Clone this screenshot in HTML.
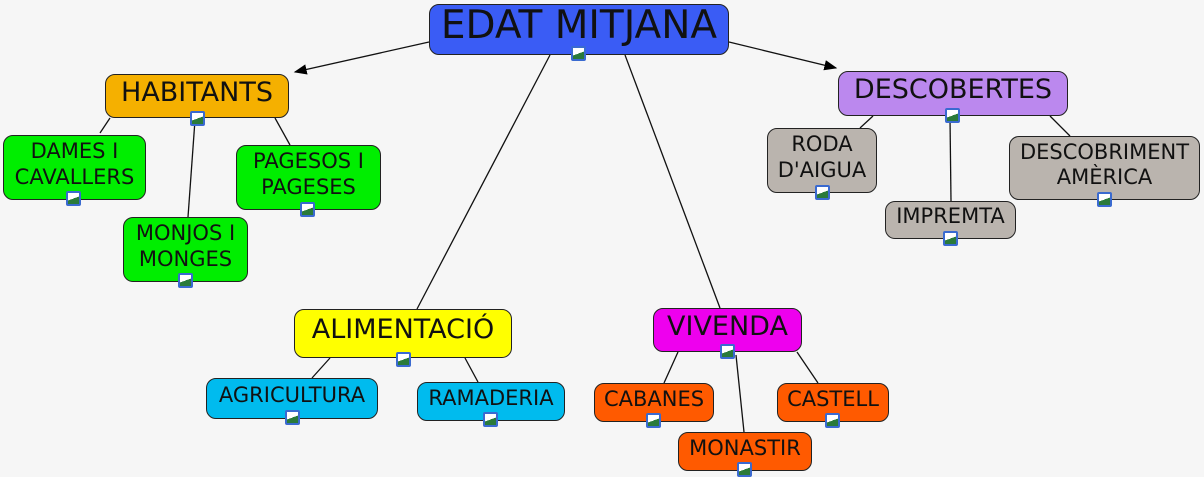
<!DOCTYPE html>
<html><head><meta charset="utf-8"><style>
body{margin:0;width:1204px;height:474px;background:#f6f6f6;position:relative;overflow:hidden;font-family:"DejaVu Sans","Liberation Sans",sans-serif;}
.n{position:absolute;box-sizing:border-box;border:1.5px solid #222;border-radius:10px;display:flex;align-items:center;justify-content:center;text-align:center;color:#111;line-height:1.2;padding-bottom:6px;white-space:nowrap}
.i{position:absolute;width:15px;height:15px;box-sizing:border-box;border:2px solid #3a6ad0;background:linear-gradient(160deg,#fff 50%,#2a7a3a 50%);border-radius:2px}
svg{position:absolute;left:0;top:0}
</style></head><body>
<svg width="1204" height="474">
<defs><marker id="a" markerWidth="10" markerHeight="8" refX="9" refY="4" orient="auto"><path d="M0,0L10,4L0,8z" fill="#000"/></marker></defs>
<g stroke="#111" stroke-width="1.3">
<line x1="429" y1="42" x2="295" y2="72" marker-end="url(#a)"/>
<line x1="729" y1="42" x2="836" y2="68" marker-end="url(#a)"/>
<line x1="550" y1="55" x2="417" y2="309"/>
<line x1="625" y1="55" x2="720" y2="308"/>
<line x1="110" y1="118" x2="100" y2="133"/>
<line x1="195" y1="120" x2="188" y2="217"/>
<line x1="275" y1="118" x2="290" y2="145"/>
<line x1="873" y1="116" x2="860" y2="128"/>
<line x1="950" y1="118" x2="951" y2="201"/>
<line x1="1050" y1="116" x2="1070" y2="136"/>
<line x1="330" y1="358" x2="312" y2="378"/>
<line x1="465" y1="358" x2="478" y2="382"/>
<line x1="678" y1="352" x2="664" y2="383"/>
<line x1="736" y1="355" x2="744" y2="432"/>
<line x1="797" y1="352" x2="818" y2="383"/>
</g></svg>
<div class="n" style="left:429px;top:4px;width:300px;height:51px;background:#3a5cf5;font-size:39px">EDAT MITJANA</div>
<div class="n" style="left:105px;top:74px;width:184px;height:44px;background:#f5b000;font-size:27px">HABITANTS</div>
<div class="n" style="left:3px;top:135px;width:143px;height:65px;background:#00ee00;font-size:21px">DAMES I<br>CAVALLERS</div>
<div class="n" style="left:123px;top:217px;width:125px;height:65px;background:#00ee00;font-size:21px">MONJOS I<br>MONGES</div>
<div class="n" style="left:236px;top:145px;width:145px;height:65px;background:#00ee00;font-size:21px">PAGESOS I<br>PAGESES</div>
<div class="n" style="left:838px;top:71px;width:230px;height:45px;background:#bb88ee;font-size:27px">DESCOBERTES</div>
<div class="n" style="left:767px;top:128px;width:110px;height:65px;background:#bab4ae;font-size:21px">RODA<br>D'AIGUA</div>
<div class="n" style="left:885px;top:201px;width:131px;height:38px;background:#bab4ae;font-size:21px">IMPREMTA</div>
<div class="n" style="left:1009px;top:136px;width:191px;height:64px;background:#bab4ae;font-size:21px">DESCOBRIMENT<br>AMÈRICA</div>
<div class="n" style="left:294px;top:309px;width:218px;height:49px;background:#ffff00;font-size:27px">ALIMENTACIÓ</div>
<div class="n" style="left:206px;top:378px;width:172px;height:41px;background:#00bbee;font-size:21px">AGRICULTURA</div>
<div class="n" style="left:417px;top:382px;width:148px;height:39px;background:#00bbee;font-size:21px">RAMADERIA</div>
<div class="n" style="left:653px;top:308px;width:149px;height:44px;background:#ee00ee;font-size:27px">VIVENDA</div>
<div class="n" style="left:594px;top:383px;width:120px;height:39px;background:#ff5a00;font-size:21px">CABANES</div>
<div class="n" style="left:777px;top:383px;width:112px;height:39px;background:#ff5a00;font-size:21px">CASTELL</div>
<div class="n" style="left:678px;top:432px;width:134px;height:39px;background:#ff5a00;font-size:21px">MONASTIR</div>
<div class="i" style="left:571px;top:46px"></div>
<div class="i" style="left:190px;top:111px"></div>
<div class="i" style="left:66px;top:191px"></div>
<div class="i" style="left:178px;top:273px"></div>
<div class="i" style="left:300px;top:202px"></div>
<div class="i" style="left:945px;top:108px"></div>
<div class="i" style="left:815px;top:185px"></div>
<div class="i" style="left:943px;top:231px"></div>
<div class="i" style="left:1097px;top:192px"></div>
<div class="i" style="left:396px;top:352px"></div>
<div class="i" style="left:285px;top:410px"></div>
<div class="i" style="left:483px;top:412px"></div>
<div class="i" style="left:720px;top:344px"></div>
<div class="i" style="left:646px;top:413px"></div>
<div class="i" style="left:825px;top:413px"></div>
<div class="i" style="left:737px;top:462px"></div>
</body></html>
